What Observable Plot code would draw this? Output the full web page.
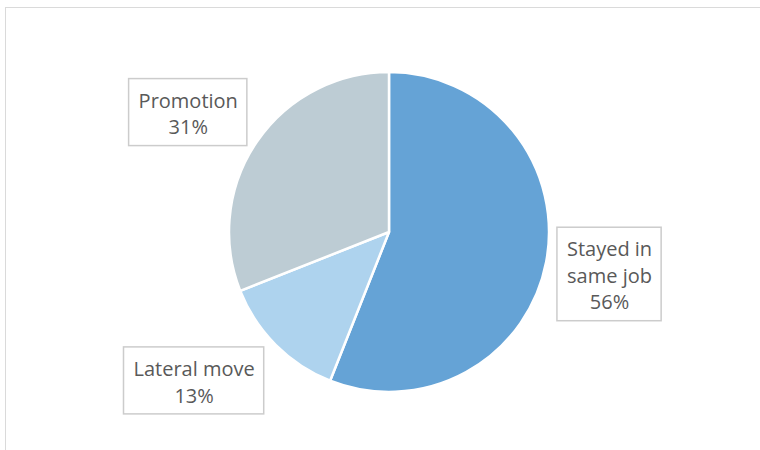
<!DOCTYPE html>
<html><head><meta charset="utf-8">
<script src="https://cdn.jsdelivr.net/npm/d3@7"></script>
<script src="https://cdn.jsdelivr.net/npm/@observablehq/plot@0.6"></script>
<style>
body{margin:0;background:#fff;}
#chart{position:relative;width:760px;height:450px;overflow:hidden;background:#fff;}
#frame{position:absolute;left:5px;top:7px;width:800px;height:500px;border:1.5px solid #dadada;box-sizing:border-box;}
#chart svg{position:absolute;left:0;top:0;}
</style></head><body><div id="chart"><div id="frame"></div></div>
<script>
// ---- data ----
const categories = ["Stayed in same job", "Lateral move", "Promotion"];
const shares = [56, 13, 31];
const labelLines = [["Stayed in", "same job"], ["Lateral move"], ["Promotion"]];
const colors = ["#65a3d6", "#aed3ee", "#bdccd4"];

// ---- layout ----
const W = 760, H = 450, cx = 389, cy = 232, r = 160;
const labelDist = 224;
const labelNudge = [[0, 0], [-37, -10], [-16, 6]];
const fontSize = 20, lineH = 26.5, padX = 9.5, padY = 7;
const font = "'Open Sans', 'DejaVu Sans', sans-serif";

const rows = categories.map((c, i) => ({category: c, share: shares[i], lines: [...labelLines[i], shares[i] + "%"]}));
const arcs = d3.pie().sort(null).value(d => d.share)(rows);

const ctx = document.createElement("canvas").getContext("2d");
ctx.font = `${fontSize}px 'Open Sans'`;

const labels = arcs.map((a, i) => {
  const mid = (a.startAngle + a.endAngle) / 2;
  const x = cx + labelDist * Math.sin(mid) + labelNudge[i][0];
  const y = cy - labelDist * Math.cos(mid) + labelNudge[i][1];
  const w = d3.max(a.data.lines, s => ctx.measureText(s).width) + 2 * padX;
  const h = a.data.lines.length * lineH + 2 * padY;
  return {x, y, x1: x - w / 2, x2: x + w / 2, y1: y - h / 2, y2: y + h / 2, text: a.data.lines.join("\n")};
});

const pieMark = (index, scales) => {
  const g = d3.create("svg:g");
  const arcGen = d3.arc().innerRadius(0).outerRadius(r);
  const col = d => (scales.color ? scales.color(d) : colors[categories.indexOf(d)]);
  g.selectAll("path").data(arcs).join("path")
    .attr("transform", `translate(${scales.x(cx)},${scales.y(cy)})`)
    .attr("d", arcGen)
    .attr("fill", d => col(d.data.category))
    .attr("stroke", "#ffffff")
    .attr("stroke-width", 2.5)
    .attr("stroke-linejoin", "round");
  return g.node();
};

const chart = Plot.plot({
  width: W,
  height: H,
  margin: 0,
  style: {background: "transparent", fontFamily: font},
  x: {type: "identity", axis: null},
  y: {type: "identity", axis: null},
  color: {type: "ordinal", domain: categories, range: colors},
  marks: [
    pieMark,
    Plot.rect(labels, {x1: "x1", x2: "x2", y1: "y1", y2: "y2", fill: "white", stroke: "#cccccc", strokeWidth: 1.5}),
    Plot.text(labels, {x: "x", y: "y", text: "text", fontSize, lineHeight: lineH / fontSize, fill: "#595959", fontFamily: font})
  ]
});
document.getElementById("chart").appendChild(chart);
</script>
</body></html>
